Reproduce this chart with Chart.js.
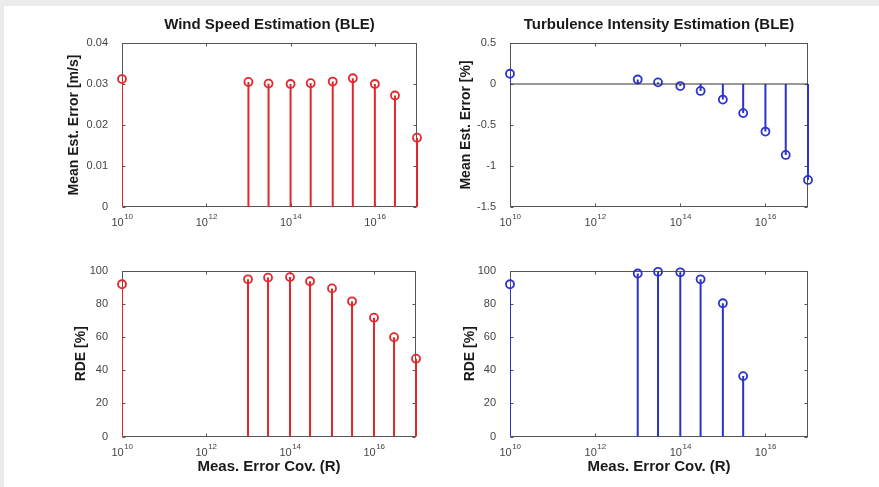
<!DOCTYPE html>
<html>
<head>
<meta charset="utf-8">
<script src="https://cdn.jsdelivr.net/npm/chart.js@4.4.0/dist/chart.umd.min.js"></script>
<style>
html, body { margin: 0; padding: 0; }
body { width: 879px; height: 487px; background: #ececec; position: relative; overflow: hidden; }
#sheet { position: absolute; left: 4px; top: 6px; right: 0; bottom: 0; background: #fff; }
canvas { position: absolute; }
</style>
</head>
<body>
<div id="sheet"></div>
<canvas id="windErrChart" width="440" height="245" style="left:0;top:0"></canvas>
<canvas id="tiErrChart" width="439" height="245" style="left:440px;top:0"></canvas>
<canvas id="windRdeChart" width="440" height="237" style="left:0;top:250px"></canvas>
<canvas id="tiRdeChart" width="439" height="237" style="left:440px;top:250px"></canvas>
<script>
// measurement error covariance R (x positions of the stems)
const covR = [1e10, 1e13, 3e13, 1e14, 3e14, 1e15, 3e15, 1e16, 3e16, 1e17];
const xTickValues = [1e10, 1e12, 1e14, 1e16];

// wind speed estimation
const windMeanErr = [0.0312, 0.0305, 0.0301, 0.0300, 0.0302, 0.0306, 0.0314, 0.0300, 0.0272, 0.0169];
const windRde = [92, 95, 96, 96.3, 93.8, 89.5, 81.7, 71.8, 60, 47];

// turbulence intensity estimation
const tiMeanErr = [0.125, 0.055, 0.02, -0.025, -0.085, -0.19, -0.355, -0.58, -0.865, -1.17];
const tiRde = [92, 98.5, 99.5, 99.2, 95, 80.5, 36.5];

const RED = '#e3262a';
const BLUE = '#2a33cc';
const FONT = '"Liberation Sans", Arial, sans-serif';

// box, inward ticks and 10^n labels like a matlab axes
const matlabAxes = {
    id: 'matlabAxes',
    beforeDatasetsDraw(chart) {
        const {ctx, chartArea: a, scales: {x, y}} = chart;
        ctx.save();
        ctx.strokeStyle = '#555';
        ctx.lineWidth = 1;
        const l = Math.round(a.left) + 0.5, r = Math.round(a.right) - 0.5;
        const t = Math.round(a.top) + 0.5, b = Math.round(a.bottom) - 0.5;
        ctx.strokeRect(l, t, r - l, b - t);
        ctx.beginPath();
        xTickValues.forEach(v => {
            const px = Math.round(x.getPixelForValue(v)) + 0.5;
            ctx.moveTo(px, b); ctx.lineTo(px, b - 3);
            ctx.moveTo(px, t); ctx.lineTo(px, t + 3);
        });
        y.ticks.forEach(tk => {
            const py = Math.round(y.getPixelForValue(tk.value)) + 0.5;
            ctx.moveTo(l, py); ctx.lineTo(l + 3, py);
            ctx.moveTo(r, py); ctx.lineTo(r - 3, py);
        });
        ctx.stroke();
        ctx.restore();
    },
    afterDraw(chart) {
        const {ctx, chartArea: a, scales: {x}} = chart;
        ctx.save();
        ctx.fillStyle = '#444';
        ctx.textBaseline = 'alphabetic';
        ctx.textAlign = 'left';
        xTickValues.forEach(v => {
            const px = x.getPixelForValue(v);
            const exp = String(Math.round(Math.log10(v)));
            ctx.font = '11px ' + FONT;
            const w1 = ctx.measureText('10').width;
            ctx.font = '8px ' + FONT;
            const w2 = ctx.measureText(exp).width;
            const start = px - (w1 + w2) / 2;
            ctx.font = '11px ' + FONT;
            ctx.fillText('10', start, a.bottom + 19);
            ctx.font = '8px ' + FONT;
            ctx.fillText(exp, start + w1 + 0.5, a.bottom + 12);
        });
        ctx.restore();
    }
};

function stemChart(id, values, color, yMin, yMax, yStep, o) {
    const xs = covR.slice(0, values.length);
    const datasets = [];
    if (o.baseline) {
        datasets.push({
            data: [{x: covR[0], y: 0}, {x: covR[covR.length - 1], y: 0}],
            borderColor: '#333', borderWidth: 1, pointRadius: 0
        });
    }
    // one small dataset per stem
    xs.forEach((xv, i) => {
        datasets.push({
            data: [{x: xv, y: 0}, {x: xv, y: values[i]}],
            borderColor: color, borderWidth: 2, pointRadius: 0,
            clip: {left: 0, right: 1, top: 10, bottom: 10}
        });
    });
    datasets.push({
        data: xs.map((xv, i) => ({x: xv, y: values[i]})),
        showLine: false, borderColor: color, backgroundColor: 'rgba(0,0,0,0)',
        pointStyle: 'circle', pointRadius: 4, pointBorderWidth: 1.8, clip: false
    });

    return new Chart(document.getElementById(id), {
        type: 'line',
        data: {datasets},
        plugins: [matlabAxes],
        options: {
            responsive: false,
            animation: false,
            layout: {padding: o.padding},
            plugins: {
                legend: {display: false},
                tooltip: {enabled: false},
                title: {
                    display: !!o.title,
                    text: o.title,
                    fullSize: false,
                    color: '#1a1a1a',
                    font: {family: FONT, size: 15, weight: 'bold'},
                    padding: {top: 16, bottom: 9}
                }
            },
            scales: {
                x: {
                    type: 'logarithmic',
                    min: 1e10,
                    max: 1e17,
                    grid: {display: false},
                    border: {display: false},
                    ticks: {display: false},
                    title: {
                        display: !!o.xTitle,
                        text: o.xTitle,
                        color: '#1a1a1a',
                        font: {family: FONT, size: 15, weight: 'bold'},
                        padding: {top: 0, bottom: o.xTitlePad || 0}
                    },
                    afterFit: s => { s.height = o.xHeight; }
                },
                y: {
                    min: yMin,
                    max: yMax,
                    grid: {display: false},
                    border: {display: false},
                    ticks: {
                        stepSize: yStep,
                        padding: 6,
                        color: '#444',
                        font: {family: FONT, size: 11},
                        callback: v => String(+v.toFixed(3))
                    },
                    title: {
                        display: true,
                        text: o.yTitle,
                        color: '#1a1a1a',
                        font: {family: FONT, size: 14, weight: 'bold'},
                        padding: {top: o.yTitlePad, bottom: 0}
                    },
                    afterFit: s => { s.width = o.yWidth; }
                }
            }
        }
    });
}

// Chart: wind speed mean estimation error
stemChart('windErrChart', windMeanErr, RED, 0, 0.04, 0.01, {
    title: 'Wind Speed Estimation (BLE)',
    yTitle: 'Mean Est. Error [m/s]',
    padding: {left: 60, right: 23, top: 0, bottom: 0},
    yWidth: 62, yTitlePad: 5.6, xHeight: 38
});

// Chart: turbulence intensity mean estimation error
stemChart('tiErrChart', tiMeanErr, BLUE, -1.5, 0.5, 0.5, {
    title: 'Turbulence Intensity Estimation (BLE)',
    yTitle: 'Mean Est. Error [%]',
    padding: {left: 14, right: 71, top: 0, bottom: 0},
    yWidth: 56, yTitlePad: 3.6, xHeight: 38, baseline: true
});

// Chart: wind speed RDE
stemChart('windRdeChart', windRde, RED, 0, 100, 20, {
    yTitle: 'RDE [%]',
    xTitle: 'Meas. Error Cov. (R)',
    padding: {left: 60, right: 24, top: 21, bottom: 0},
    yWidth: 62, yTitlePad: 12.6, xHeight: 50.5, xTitlePad: 11
});

// Chart: turbulence intensity RDE
stemChart('tiRdeChart', tiRde, BLUE, 0, 100, 20, {
    yTitle: 'RDE [%]',
    xTitle: 'Meas. Error Cov. (R)',
    padding: {left: 14, right: 71, top: 21, bottom: 0},
    yWidth: 56, yTitlePad: 7.6, xHeight: 50.5, xTitlePad: 11
});
</script>
</body>
</html>
